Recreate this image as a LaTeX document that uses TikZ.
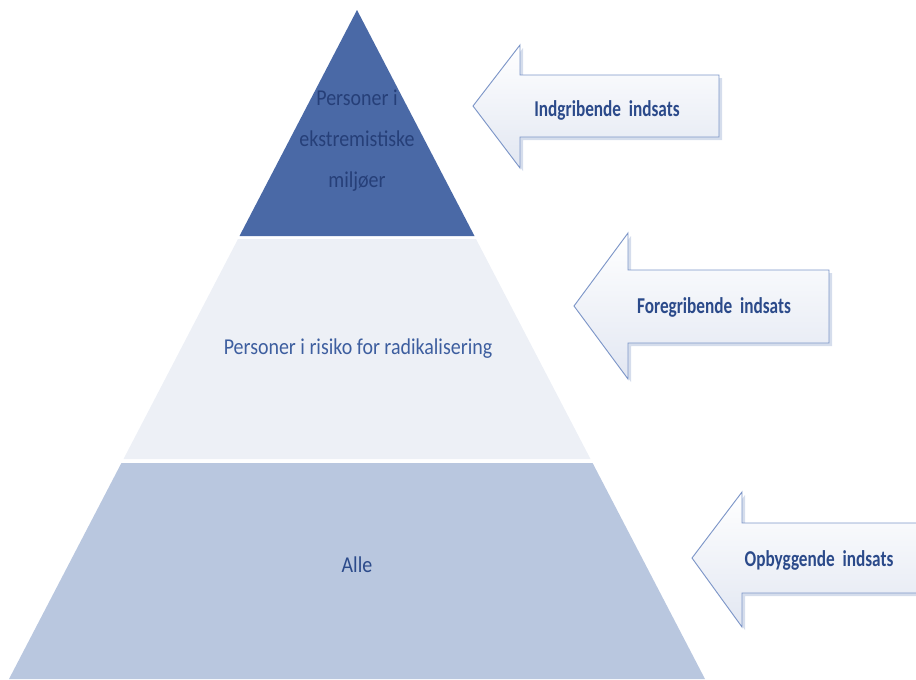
\documentclass[tikz,border=0pt]{standalone}
\usepackage{fontspec}
\newfontfamily\pyrfont[FakeStretch=0.88]{Carlito}
\newfontfamily\arrowfont[FakeStretch=0.76]{Carlito}
\definecolor{topblue}{HTML}{4A69A6}
\definecolor{topink}{HTML}{263F78}
\definecolor{midpale}{HTML}{EDF0F6}
\definecolor{basegrey}{HTML}{B9C7DF}
\definecolor{inkblue}{HTML}{3D5E9F}
\definecolor{deepink}{HTML}{2B4A8A}
\definecolor{edgeblue}{HTML}{7D96C8}
\definecolor{bevelgrey}{HTML}{C3CEE4}
\definecolor{arrowpale}{HTML}{E2E7F2}
\tikzset{
  layer/.style={draw=none},
  layertext/.style={font=\pyrfont\fontsize{17}{30.75}\selectfont, align=center, inner sep=0pt},
  blockarrow/.style={top color=white, bottom color=arrowpale, draw=edgeblue, line width=0.7pt, line join=miter},
  arrowshadow/.style={fill=bevelgrey, draw=none, opacity=0.7},
  arrowlabel/.style={font=\arrowfont\bfseries\fontsize{17}{20}\selectfont, text=deepink, inner sep=0pt, anchor=base}
}
\begin{document}
\begin{tikzpicture}[x=0.75pt, y=-0.75pt]
\useasboundingbox (0,0) rectangle (916,679);
% pyramid layers
\path[layer, fill=topblue] (357,10) -- (474.5,236) -- (239.5,236) -- cycle;
\path[layer, fill=midpale] (238,239) -- (476,239) -- (590.5,459) -- (123.5,459) -- cycle;
\path[layer, fill=basegrey] (121.4,463) -- (592.6,463) -- (705,679) -- (9,679) -- cycle;
\node[layertext, text=topink] (ekstrem) at (357,141) {Personer i\\ekstremistiske\\miljøer};
\node[layertext, text=inkblue, anchor=base] (risiko) at (358,354) {Personer i risiko for radikalisering};
\node[layertext, text=deepink, anchor=base] (alle) at (357,572) {Alle};
% arrows
\foreach \tip/\hx/\top/\btop/\bbot/\bot/\rx/\ty in {
  473/520/45/75/137/168/719/106,
  574/628/233/270/343/379/829/306,
  692/742/492/523/593/627/919/558}
{
  \path[arrowshadow] (\tip+3,\ty+3) -- (\hx+3,\top+3) -- (\hx+3,\btop+3) -- (\rx+3,\btop+3) -- (\rx+3,\bbot+3) -- (\hx+3,\bbot+3) -- (\hx+3,\bot+3) -- cycle;
  \path[blockarrow] (\tip,\ty) -- (\hx,\top) -- (\hx,\btop) -- (\rx,\btop) -- (\rx,\bbot) -- (\hx,\bbot) -- (\hx,\bot) -- cycle;
}
\node[arrowlabel] (indgrib) at (607,116) {Indgribende\ \ indsats};
\node[arrowlabel] (foregrib) at (714,313) {Foregribende\ \ indsats};
\node[arrowlabel] (opbyg) at (819,566) {Opbyggende\ \ indsats};
\end{tikzpicture}
\end{document}
